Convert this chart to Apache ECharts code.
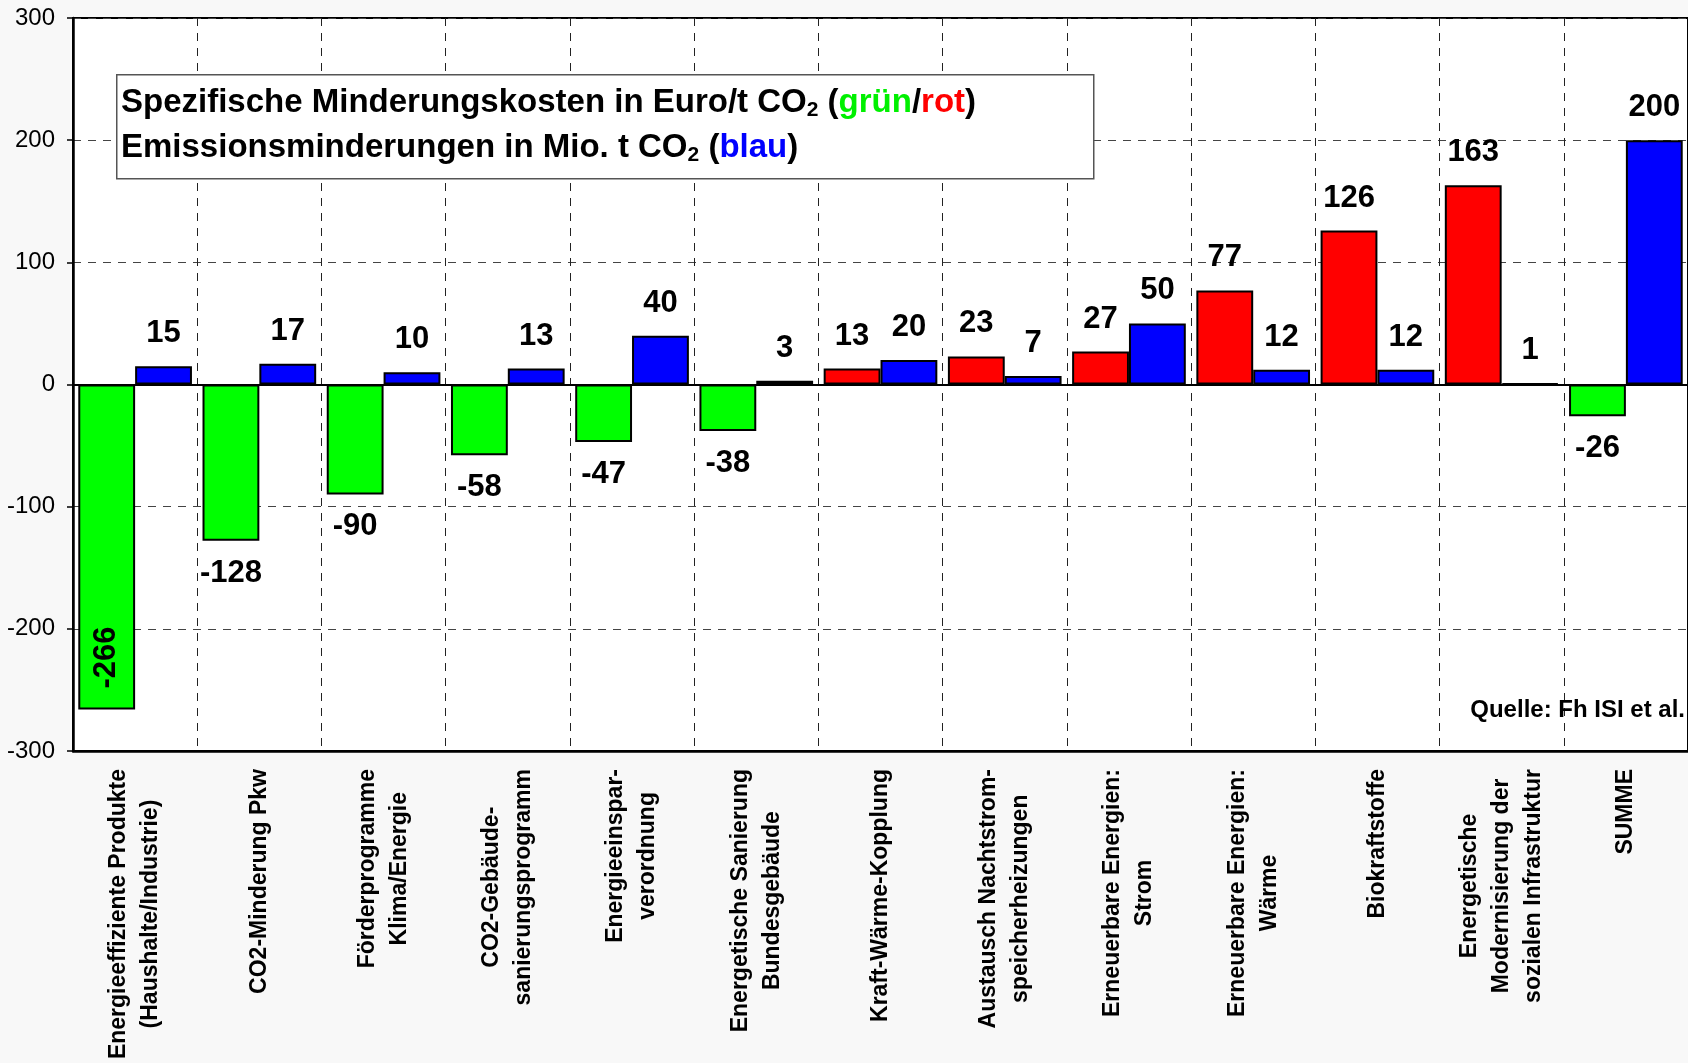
<!DOCTYPE html>
<html>
<head>
<meta charset="utf-8">
<script src="https://cdn.jsdelivr.net/npm/echarts@6/dist/echarts.min.js"></script>
<style>
  html, body { margin: 0; padding: 0; background: #f8f8f8; }
  #chart { width: 1688px; height: 1063px; }
</style>
</head>
<body>
<div id="chart"></div>
<script>
var categories = [
  "Energieeffiziente Produkte\n(Haushalte/Industrie)",
  "CO2-Minderung Pkw",
  "Förderprogramme\nKlima/Energie",
  "CO2-Gebäude-\nsanierungsprogramm",
  "Energieeinspar-\nverordnung",
  "Energetische Sanierung\nBundesgebäude",
  "Kraft-Wärme-Kopplung",
  "Austausch Nachtstrom-\nspeicherheizungen",
  "Erneuerbare Energien:\nStrom",
  "Erneuerbare Energien:\nWärme",
  "Biokraftstoffe",
  "Energetische\nModernisierung der\nsozialen Infrastruktur",
  "SUMME",
];
// Euro/t CO2 (grün = negativ, rot = positiv)
var kosten = [-266, -128, -90, -58, -47, -38, 13, 23, 27, 77, 126, 163, -26];
// Mio. t CO2 (blau)
var minderung = [15, 17, 10, 13, 40, 3, 20, 7, 50, 12, 12, 1, 200];
var yTicks = [-300, -200, -100, 0, 100, 200, 300];

var FONT = "'Liberation Sans', Arial, sans-serif";

var chart = echarts.init(document.getElementById("chart"));

function makeLabel(pos) {
  return {
    show: true,
    position: pos,
    distance: 17,
    color: "#000",
    fontFamily: FONT,
    fontWeight: "bold",
    fontSize: 31,
  };
}

var kostenData = kosten.map(function (v) {
  var item = { value: v };
  if (v < -200) {
    // großer Balken: Beschriftung gedreht im Balken
    item.label = {
      position: "insideBottom",
      rotate: 90,
      distance: 52,
      align: "center",
      verticalAlign: "middle",
    };
  }
  return item;
});

var option = {
  backgroundColor: "#f8f8f8",
  animation: false,
  grid: {
    left: 73,
    top: 18,
    right: -5,
    bottom: 312,
    show: true,
    backgroundColor: "#ffffff",
    borderColor: "#000",
    borderWidth: 2,
  },
  xAxis: {
    type: "category",
    data: categories,
    axisLine: {
      onZero: false,
      lineStyle: { color: "#000", width: 2.5 },
    },
    axisTick: { show: false },
    splitLine: {
      show: true,
      interval: 0,
      lineStyle: { color: "#222", type: [8, 7], width: 1 },
    },
    axisLabel: {
      interval: 0,
      rotate: 90,
      margin: 18,
      formatter: function (value) {
        return value
          .split("\n")
          .map(function (l) {
            return "{c|" + l + "}";
          })
          .join("\n");
      },
      rich: {
        c: {
          align: "center",
          fontFamily: FONT,
          fontWeight: "bold",
          fontSize: 23,
          lineHeight: 32,
          color: "#000",
        },
      },
    },
  },
  yAxis: {
    type: "value",
    min: yTicks[0],
    max: yTicks[yTicks.length - 1],
    interval: 100,
    axisLine: {
      show: true,
      lineStyle: { color: "#000", width: 2.5 },
    },
    axisTick: {
      show: true,
      length: 6,
      lineStyle: { color: "#000", width: 1.5 },
    },
    axisLabel: {
      margin: 18,
      color: "#000",
      fontFamily: FONT,
      fontSize: 24,
    },
    splitLine: {
      show: true,
      lineStyle: { color: "#444", type: [8, 7], width: 1 },
    },
  },
  series: [
    {
      name: "Kosten",
      type: "bar",
      data: kostenData,
      barCategoryGap: "8.5%",
      barGap: 0,
      itemStyle: {
        borderColor: "#000",
        borderWidth: 2,
        color: function (p) {
          return p.value < 0 ? "#00ff00" : "#ff0000";
        },
      },
      label: makeLabel("outside"),
      markLine: {
        silent: true,
        symbol: "none",
        label: { show: false },
        lineStyle: { color: "#000", type: "solid", width: 2 },
        data: [{ yAxis: 0 }],
      },
    },
    {
      name: "Minderung",
      type: "bar",
      data: minderung,
      barCategoryGap: "8.5%",
      barGap: 0,
      itemStyle: {
        borderColor: "#000",
        borderWidth: 2,
        color: "#0000ff",
      },
      label: makeLabel("top"),
    },
  ],
  graphic: [
    {
      type: "rect",
      left: 116,
      top: 74,
      shape: { width: 977, height: 104 },
      style: { fill: "#fff", stroke: "#555", lineWidth: 1.5 },
      z: 10,
    },
    {
      type: "text",
      left: 121,
      top: 85,
      z: 11,
      style: {
        text:
          "{b|Spezifische Minderungskosten in Euro/t CO}{s|2}{b| (}{g|grün}{b|/}{r|rot}{b|)}\n" +
          "{b|Emissionsminderungen in Mio. t CO}{s|2}{b| (}{u|blau}{b|)}",
        rich: {
          b: { fontFamily: FONT, fontWeight: "bold", fontSize: 33, lineHeight: 45, fill: "#000" },
          s: { fontFamily: FONT, fontWeight: "bold", fontSize: 21, lineHeight: 45, fill: "#000", padding: [15, 0, 0, 0] },
          g: { fontFamily: FONT, fontWeight: "bold", fontSize: 33, lineHeight: 45, fill: "#00f000" },
          r: { fontFamily: FONT, fontWeight: "bold", fontSize: 33, lineHeight: 45, fill: "#ff0000" },
          u: { fontFamily: FONT, fontWeight: "bold", fontSize: 33, lineHeight: 45, fill: "#0000ff" },
        },
      },
    },
    {
      type: "text",
      right: 3,
      top: 698,
      z: 11,
      style: {
        text: "Quelle: Fh ISI et al.",
        fontFamily: FONT,
        fontWeight: "bold",
        fontSize: 24,
        fill: "#000",
      },
    },
  ],
};
chart.setOption(option);
</script>
</body>
</html>
